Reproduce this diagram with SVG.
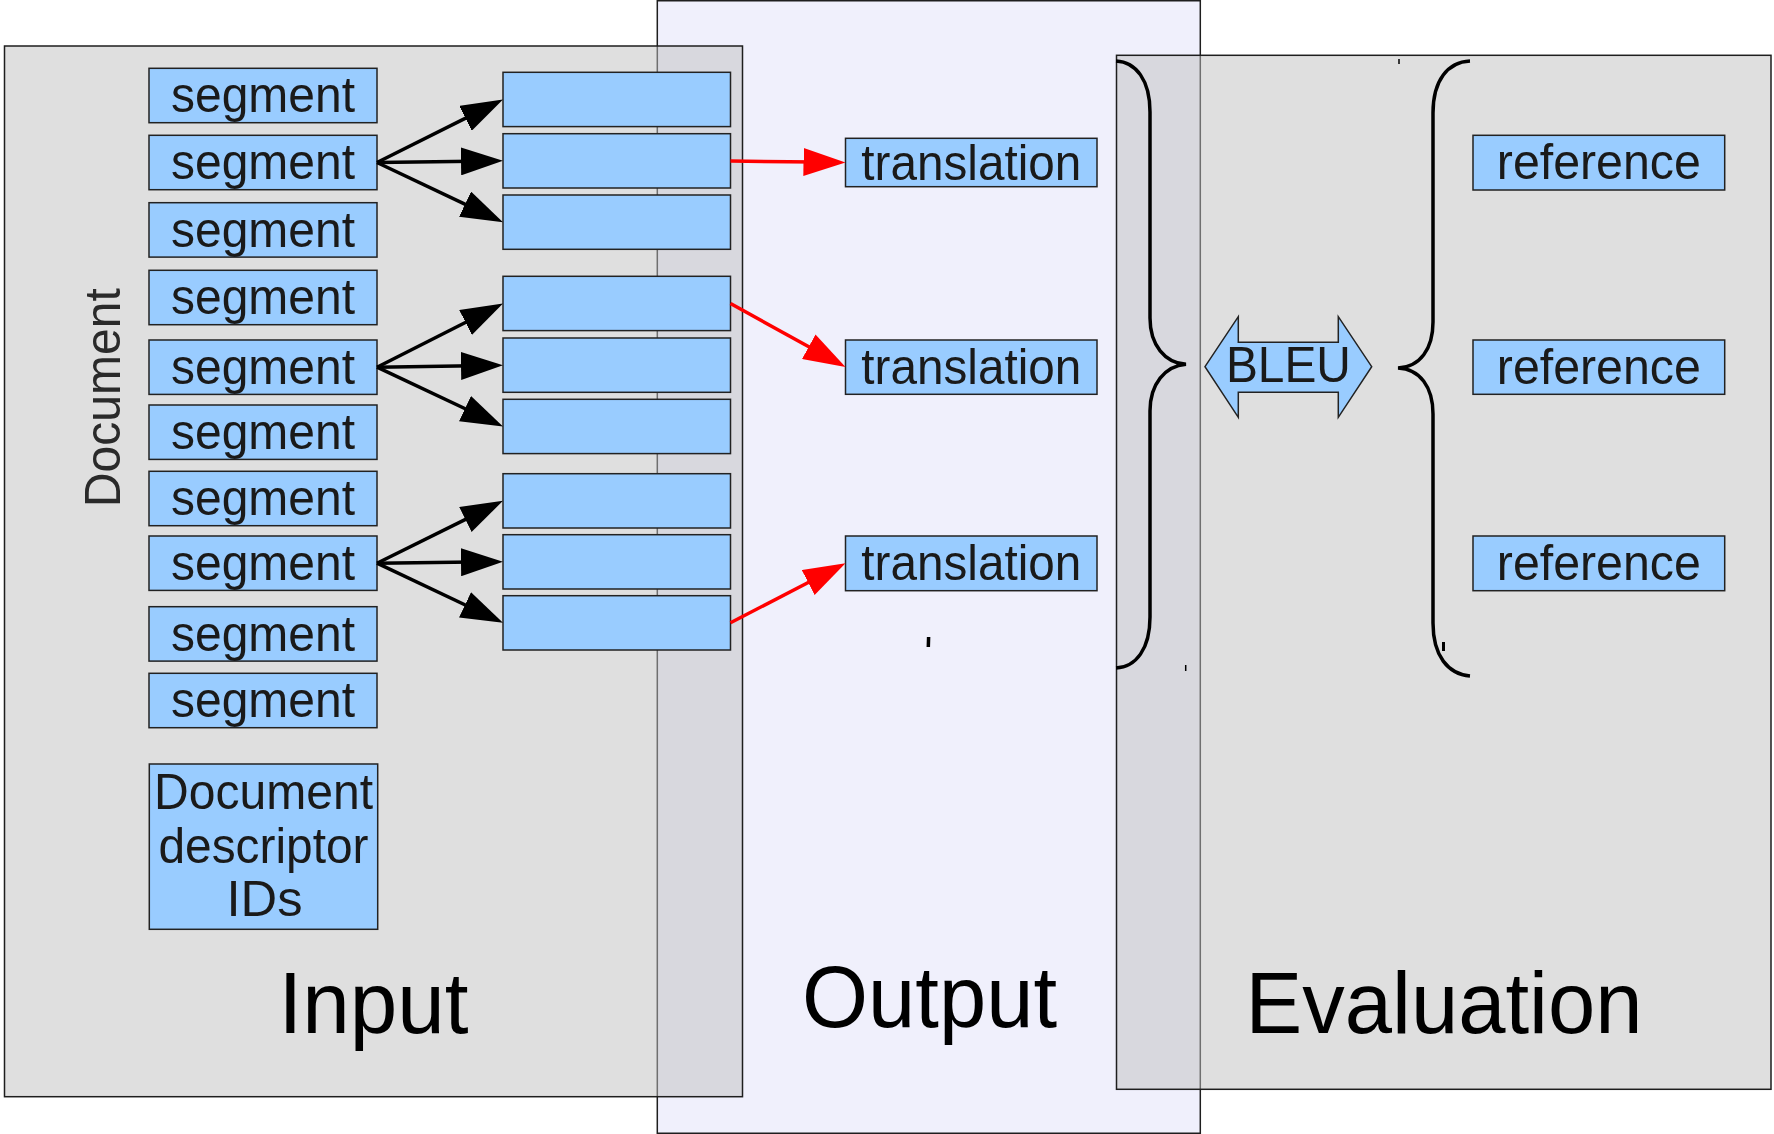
<svg xmlns="http://www.w3.org/2000/svg" width="1774" height="1134" viewBox="0 0 1774 1134">
  <style>
    .pane-out { fill: #f0f0fc; stroke: #1e1e1e; stroke-width: 1.5; }
    .pane-gray { fill: #c0c0c0; fill-opacity: 0.5; stroke: #1e1e1e; stroke-width: 1.5; }
    .box { fill: #99ccff; stroke: #222; stroke-width: 1.5; }
    .lbl { font-family: "Liberation Sans", Arial, sans-serif; font-size: 50px; fill: #1a1a1a; text-anchor: middle; }
    .big { font-family: "Liberation Sans", Arial, sans-serif; font-size: 88px; fill: #000; text-anchor: middle; }
    .side { font-family: "Liberation Sans", Arial, sans-serif; font-size: 50px; fill: #2a2a2a; text-anchor: middle; }
    .blk { fill: none; stroke: #000; stroke-width: 3.5; marker-end: url(#head-black); }
    .red { fill: none; stroke: #ff0000; stroke-width: 3.5; marker-end: url(#head-red); }
    .brace { fill: none; stroke: #000; stroke-width: 3.5; }
    .tick { stroke: #000; stroke-width: 3; }
  </style>
  <defs>
    <marker id="head-black" markerUnits="userSpaceOnUse" viewBox="0 0 42 28" markerWidth="42" markerHeight="28" refX="12" refY="14" orient="auto">
      <path d="M0,0 L42,14 L0,28 z" fill="#000"/>
    </marker>
    <marker id="head-red" markerUnits="userSpaceOnUse" viewBox="0 0 42 28" markerWidth="42" markerHeight="28" refX="12" refY="14" orient="auto">
      <path d="M0,0 L42,14 L0,28 z" fill="#ff0000"/>
    </marker>
  </defs>

  <rect width="1774" height="1134" fill="#ffffff"/>

  <!-- three stage panels -->
  <g id="panel-output">
    <rect class="pane-out" x="657.3" y="0.75" width="543" height="1132.5"/>
    <text class="big" x="929.5" y="1027" textLength="255" lengthAdjust="spacingAndGlyphs">Output</text>
  </g>
  <g id="panel-input">
    <rect class="pane-gray" x="4.5" y="46" width="738" height="1050.7"/>
    <text class="big" x="373.5" y="1032.7" textLength="190" lengthAdjust="spacingAndGlyphs">Input</text>
    <text class="side" transform="translate(120,397.7) rotate(-90)" textLength="219" lengthAdjust="spacingAndGlyphs">Document</text>
  </g>
  <g id="panel-evaluation">
    <rect class="pane-gray" x="1116.5" y="55.3" width="654.5" height="1034"/>
    <text class="big" x="1444" y="1033" textLength="397" lengthAdjust="spacingAndGlyphs">Evaluation</text>
  </g>

  <!-- braces grouping translations and references -->
  <g id="brace-translations">
    <path class="brace" d="M1116,61 C1136,62 1150,80 1150,112 L1150,318 C1150,345 1165,363 1186,364.3 C1165,366 1150,384 1150,411 L1150,617 C1150,649 1136,667 1116,668"/>
  </g>
  <g id="brace-references">
    <path class="brace" d="M1470,61 C1448,62 1433,80 1433,113 L1433,322 C1433,349 1420,367 1398,368 C1420,369 1433,387 1433,414 L1433,623 C1433,656 1448,674 1470,676"/>
    <line class="tick" x1="1443.5" y1="642" x2="1443.5" y2="651"/>
  </g>
  <g id="marks">
    <line x1="928.6" y1="637" x2="928.3" y2="647" stroke="#000" stroke-width="3.5"/>
    <line x1="1185.7" y1="665" x2="1185.7" y2="671" stroke="#000" stroke-width="1.5"/>
    <line x1="1399" y1="59" x2="1399" y2="64" stroke="#000" stroke-width="1.5"/>
  </g>

  <!-- BLEU double arrow -->
  <g id="bleu">
    <polygon class="box" points="1205,366.7 1238.3,316.7 1238.3,342.3 1338.3,342.3 1338.3,316.7 1371.7,366.7 1338.3,417.3 1338.3,392.3 1238.3,392.3 1238.3,417.3"/>
    <text class="lbl" x="1288.4" y="381.7" textLength="125" lengthAdjust="spacingAndGlyphs">BLEU</text>
  </g>

  <!-- document segments -->
  <g id="segment-1"><rect class="box" x="149" y="68.3" width="228" height="54.4"/><text class="lbl" x="263" y="112.3" textLength="184" lengthAdjust="spacingAndGlyphs">segment</text></g>
  <g id="segment-2"><rect class="box" x="149" y="135.3" width="228" height="54.4"/><text class="lbl" x="263" y="179.3" textLength="184" lengthAdjust="spacingAndGlyphs">segment</text></g>
  <g id="segment-3"><rect class="box" x="149" y="202.7" width="228" height="54.4"/><text class="lbl" x="263" y="246.7" textLength="184" lengthAdjust="spacingAndGlyphs">segment</text></g>
  <g id="segment-4"><rect class="box" x="149" y="270.3" width="228" height="54.4"/><text class="lbl" x="263" y="314.3" textLength="184" lengthAdjust="spacingAndGlyphs">segment</text></g>
  <g id="segment-5"><rect class="box" x="149" y="340" width="228" height="54.4"/><text class="lbl" x="263" y="384" textLength="184" lengthAdjust="spacingAndGlyphs">segment</text></g>
  <g id="segment-6"><rect class="box" x="149" y="405" width="228" height="54.4"/><text class="lbl" x="263" y="449" textLength="184" lengthAdjust="spacingAndGlyphs">segment</text></g>
  <g id="segment-7"><rect class="box" x="149" y="471.3" width="228" height="54.4"/><text class="lbl" x="263" y="515.3" textLength="184" lengthAdjust="spacingAndGlyphs">segment</text></g>
  <g id="segment-8"><rect class="box" x="149" y="536" width="228" height="54.4"/><text class="lbl" x="263" y="580" textLength="184" lengthAdjust="spacingAndGlyphs">segment</text></g>
  <g id="segment-9"><rect class="box" x="149" y="606.7" width="228" height="54.4"/><text class="lbl" x="263" y="650.7" textLength="184" lengthAdjust="spacingAndGlyphs">segment</text></g>
  <g id="segment-10"><rect class="box" x="149" y="673.3" width="228" height="54.4"/><text class="lbl" x="263" y="717.3" textLength="184" lengthAdjust="spacingAndGlyphs">segment</text></g>

  <g id="descriptor-ids">
    <rect class="box" x="149.3" y="764" width="228.4" height="165.3"/>
    <text class="lbl" x="263.5" y="809.3" textLength="219" lengthAdjust="spacingAndGlyphs">Document</text>
    <text class="lbl" x="263.5" y="862.5" textLength="210" lengthAdjust="spacingAndGlyphs">descriptor</text>
    <text class="lbl" x="264.5" y="915.7" textLength="76" lengthAdjust="spacingAndGlyphs">IDs</text>
  </g>

  <!-- candidate blocks -->
  <g id="block-1a"><rect class="box" x="503" y="72.3" width="227.5" height="54.3"/></g>
  <g id="block-1b"><rect class="box" x="503" y="133.7" width="227.5" height="54.3"/></g>
  <g id="block-1c"><rect class="box" x="503" y="195" width="227.5" height="54.3"/></g>
  <g id="block-2a"><rect class="box" x="503" y="276.3" width="227.5" height="54.3"/></g>
  <g id="block-2b"><rect class="box" x="503" y="338" width="227.5" height="54.3"/></g>
  <g id="block-2c"><rect class="box" x="503" y="399.3" width="227.5" height="54.3"/></g>
  <g id="block-3a"><rect class="box" x="503" y="473.7" width="227.5" height="54.3"/></g>
  <g id="block-3b"><rect class="box" x="503" y="534.7" width="227.5" height="54.3"/></g>
  <g id="block-3c"><rect class="box" x="503" y="595.7" width="227.5" height="54.3"/></g>

  <!-- translations -->
  <g id="translation-1"><rect class="box" x="845.5" y="138.3" width="251.5" height="48.4"/><text class="lbl" x="971.3" y="179.5" textLength="220" lengthAdjust="spacingAndGlyphs">translation</text></g>
  <g id="translation-2"><rect class="box" x="845.5" y="340" width="251.5" height="54.3"/><text class="lbl" x="971.3" y="384" textLength="220" lengthAdjust="spacingAndGlyphs">translation</text></g>
  <g id="translation-3"><rect class="box" x="845.5" y="536" width="251.5" height="54.7"/><text class="lbl" x="971.3" y="580" textLength="220" lengthAdjust="spacingAndGlyphs">translation</text></g>

  <!-- references -->
  <g id="reference-1"><rect class="box" x="1473" y="135.3" width="251.7" height="54.7"/><text class="lbl" x="1598.8" y="179.3" textLength="204" lengthAdjust="spacingAndGlyphs">reference</text></g>
  <g id="reference-2"><rect class="box" x="1473" y="340" width="251.7" height="54.3"/><text class="lbl" x="1598.8" y="384" textLength="204" lengthAdjust="spacingAndGlyphs">reference</text></g>
  <g id="reference-3"><rect class="box" x="1473" y="536" width="251.7" height="54.7"/><text class="lbl" x="1598.8" y="580" textLength="204" lengthAdjust="spacingAndGlyphs">reference</text></g>

  <!-- connectors -->
  <g id="connectors">
    <line class="blk" x1="377" y1="162.5" x2="476.17" y2="112.92"/>
    <line class="blk" x1="377" y1="162.5" x2="473" y2="161.2"/>
    <line class="blk" x1="377" y1="162.5" x2="475.89" y2="209.35"/>
    <line class="blk" x1="377" y1="367.2" x2="476.23" y2="317.04"/>
    <line class="blk" x1="377" y1="367.2" x2="473" y2="365.7"/>
    <line class="blk" x1="377" y1="367.2" x2="475.86" y2="413.73"/>
    <line class="blk" x1="377" y1="563.2" x2="476.12" y2="514.11"/>
    <line class="blk" x1="377" y1="563.2" x2="473" y2="562.1"/>
    <line class="blk" x1="377" y1="563.2" x2="475.88" y2="609.97"/>
    <line class="red" x1="730.5" y1="161" x2="815.5" y2="162.1"/>
    <line class="red" x1="730.5" y1="303.5" x2="819.24" y2="352.5"/>
    <line class="red" x1="730.5" y1="622.7" x2="818.84" y2="577.07"/>
  </g>
</svg>
